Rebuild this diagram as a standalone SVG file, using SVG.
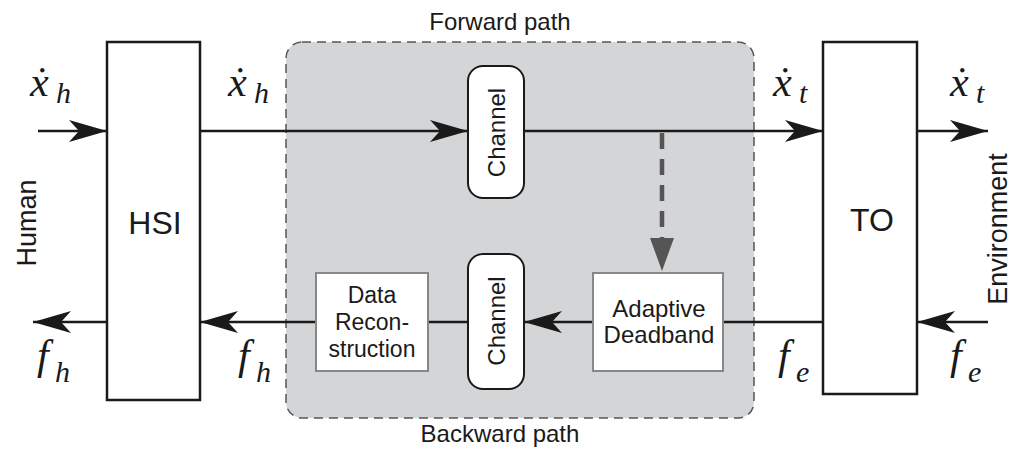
<svg xmlns="http://www.w3.org/2000/svg" width="1016" height="454" viewBox="0 0 1016 454">
<style>
.blk{fill:#fff;stroke:#1a1a1a;stroke-width:2.5}
.sub{fill:#fff;stroke:#888;stroke-width:2}
.ch{fill:#fff;stroke:#1a1a1a;stroke-width:2}
.ln{stroke:#1a1a1a;stroke-width:2.5;fill:none}
.t{font-family:"Liberation Sans",Arial,sans-serif;fill:#1a1a1a;font-size:24px}
.big{font-size:32px}
.side{font-size:27px}
.m{font-family:"Liberation Serif","DejaVu Serif",serif;font-style:italic;fill:#1a1a1a;font-size:42px}
.s{font-family:"Liberation Serif","DejaVu Serif",serif;font-style:italic;fill:#1a1a1a;font-size:30px}
</style>
<defs>
<marker id="ah" markerUnits="userSpaceOnUse" markerWidth="40" markerHeight="24" refX="38" refY="11" orient="auto" viewBox="0 0 40 22">
<path d="M38,11 L0,0 L10,11 L0,22 Z" fill="#1a1a1a"/>
</marker>
</defs>
<rect x="286" y="42" width="468" height="376" rx="16" fill="#d4d5d7" stroke="#555" stroke-width="1.5" stroke-dasharray="9,6"/>
<text class="t" x="500" y="30" text-anchor="middle">Forward path</text>
<text class="t" x="500" y="442" text-anchor="middle">Backward path</text>
<g id="connectors">
<line class="ln" x1="38" y1="131" x2="107" y2="131" marker-end="url(#ah)"/>
<line class="ln" x1="200" y1="131" x2="468" y2="131" marker-end="url(#ah)"/>
<line class="ln" x1="524" y1="131" x2="823" y2="131" marker-end="url(#ah)"/>
<line class="ln" x1="917" y1="131" x2="988" y2="131" marker-end="url(#ah)"/>
<line class="ln" x1="988" y1="322" x2="917" y2="322" marker-end="url(#ah)"/>
<line class="ln" x1="823" y1="322" x2="723" y2="322"/>
<line class="ln" x1="593" y1="322" x2="524" y2="322" marker-end="url(#ah)"/>
<line class="ln" x1="468" y1="322" x2="428" y2="322"/>
<line class="ln" x1="316" y1="322" x2="200" y2="322" marker-end="url(#ah)"/>
<line class="ln" x1="107" y1="322" x2="33" y2="322" marker-end="url(#ah)"/>
<line x1="662" y1="133" x2="662" y2="240" stroke="#555" stroke-width="4.5" stroke-dasharray="16,10"/>
<path d="M650,238 L674,238 L662,271 Z" fill="#555"/>
</g>
<g id="hsi"><rect class="blk" x="107" y="42" width="93" height="358"/><text class="t big" x="155" y="234" text-anchor="middle">HSI</text></g>
<g id="to"><rect class="blk" x="823" y="42" width="94" height="352"/><text class="t big" x="872" y="231" text-anchor="middle">TO</text></g>
<g id="channel-fwd"><rect class="ch" x="468" y="66" width="56" height="132" rx="15"/><text class="t" transform="translate(505,132.5) rotate(-90)" text-anchor="middle">Channel</text></g>
<g id="channel-bwd"><rect class="ch" x="468" y="254" width="56" height="135" rx="15"/><text class="t" transform="translate(505,321) rotate(-90)" text-anchor="middle">Channel</text></g>
<g id="data-recon"><rect class="sub" x="316" y="273" width="112" height="98"/><text class="t" text-anchor="middle" style="font-size:23px"><tspan x="372" y="303">Data</tspan><tspan x="372" y="330">Recon-</tspan><tspan x="372" y="357">struction</tspan></text></g>
<g id="deadband"><rect class="sub" x="593" y="273" width="130" height="98"/><text class="t" text-anchor="middle"><tspan x="659" y="317">Adaptive</tspan><tspan x="659" y="343">Deadband</tspan></text></g>
<text class="t side" transform="translate(36,223) rotate(-90)" text-anchor="middle">Human</text>
<text class="t side" transform="translate(1007,229) rotate(-90)" text-anchor="middle">Environment</text>
<text class="m" x="30" y="96">ẋ</text><text class="s" x="56" y="103">h</text>
<text class="m" x="228" y="96">ẋ</text><text class="s" x="254" y="103">h</text>
<text class="m" x="773" y="96">ẋ</text><text class="s" x="799" y="103">t</text>
<text class="m" x="950" y="96">ẋ</text><text class="s" x="976" y="103">t</text>
<text class="m" x="37" y="369">f</text><text class="s" x="55" y="382">h</text>
<text class="m" x="238" y="369">f</text><text class="s" x="256" y="382">h</text>
<text class="m" x="778" y="369">f</text><text class="s" x="796" y="382">e</text>
<text class="m" x="950" y="369">f</text><text class="s" x="968" y="382">e</text>
</svg>
